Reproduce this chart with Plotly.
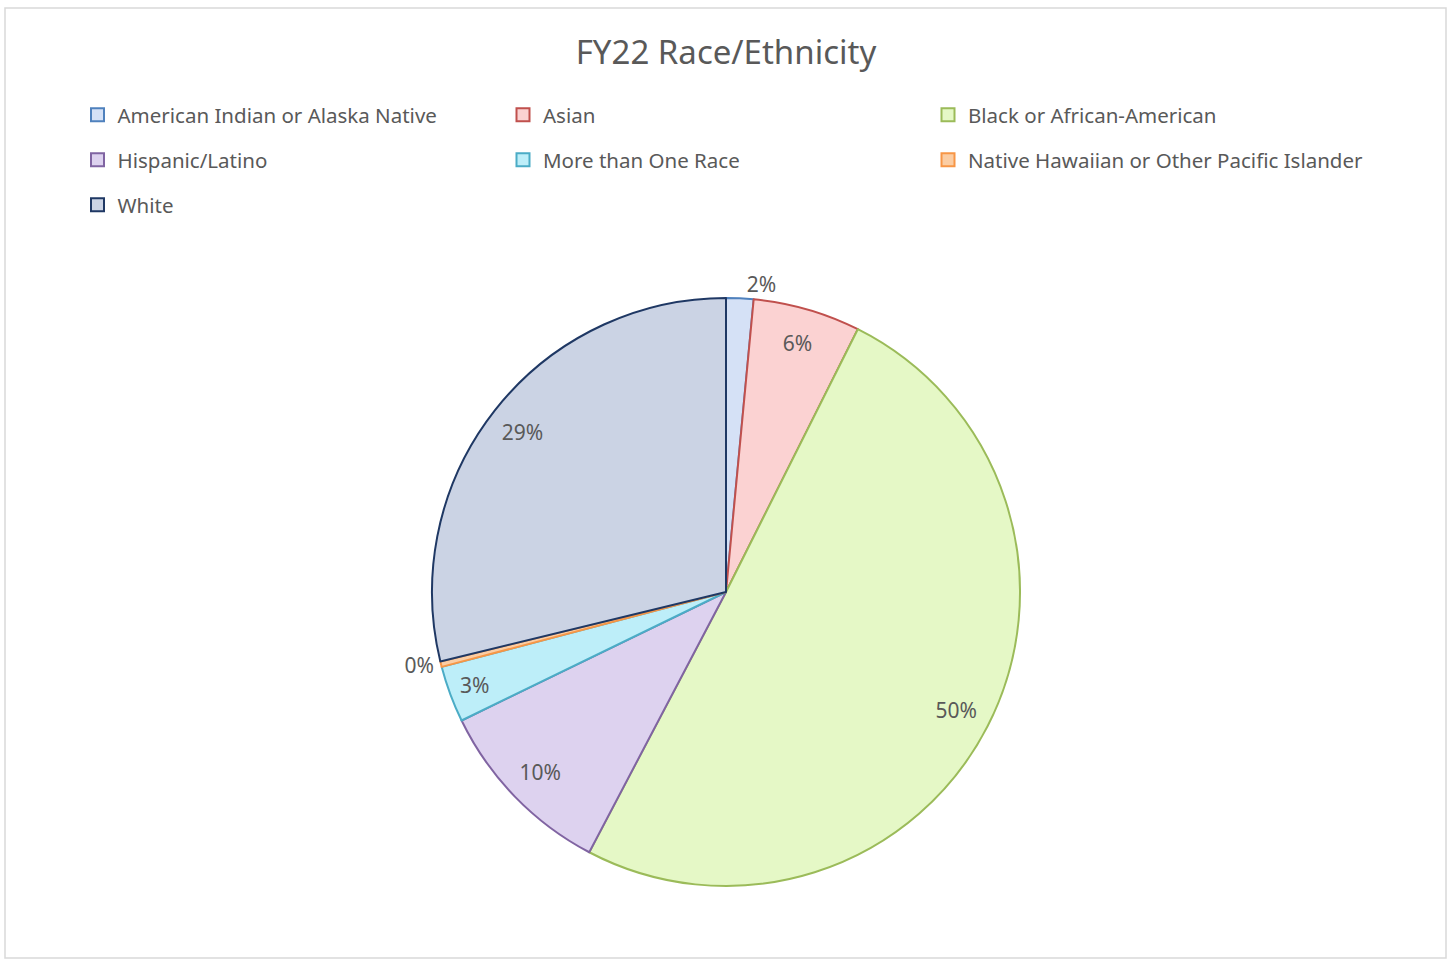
import plotly.graph_objects as go

labels = [
    "American Indian or Alaska Native",
    "Asian",
    "Black or African-American",
    "Hispanic/Latino",
    "More than One Race",
    "Native Hawaiian or Other Pacific Islander",
    "White",
]
shares = [1.5, 5.9, 50.3, 10.1, 3.1, 0.3, 28.8]
label_pos = ["outside", "inside", "inside", "inside", "inside", "outside", "inside"]

fill_colors = ["#d5e1f6", "#fbd2d2", "#e5f8c6", "#ddd2ef", "#bdeef9", "#fbcda3", "#cbd3e4"]
edge_colors = ["#4f81bd", "#c0504d", "#9bbb59", "#8064a2", "#4bacc6", "#f79646", "#1f3864"]

W, H = 1452, 960
pie_domain = dict(x=[0, 1], y=[0.0771, 0.6896])
txt_font = dict(family="Noto Sans", size=21, color="#595959")

# Excel-like legend grid: 3 columns, rows 45px apart
col_x = [77.5, 503, 928]
row_y = [115, 160, 205]

fig = go.Figure()

# the slices
fig.add_trace(go.Pie(
    labels=labels,
    values=shares,
    sort=False,
    direction="clockwise",
    rotation=0,
    textinfo="none",
    marker=dict(colors=fill_colors, line=dict(color=edge_colors, width=2)),
    domain=pie_domain,
    showlegend=False,
    hoverinfo="label+percent",
))

# transparent ring on top, only for the percent labels (puts them near the rim like Excel)
fig.add_trace(go.Pie(
    labels=labels,
    values=shares,
    sort=False,
    direction="clockwise",
    rotation=0,
    hole=0.76,
    texttemplate="%{percent:.0%}",
    textposition=label_pos,
    insidetextorientation="horizontal",
    textfont=txt_font,
    outsidetextfont=txt_font,
    marker=dict(colors=["rgba(0,0,0,0)"] * len(labels), line=dict(width=0)),
    domain=pie_domain,
    showlegend=False,
    hoverinfo="skip",
))

legends = {}
for i, (name, fc, ec) in enumerate(zip(labels, fill_colors, edge_colors)):
    lg = "legend" if i == 0 else "legend%d" % (i + 1)
    fig.add_trace(go.Scatter(
        x=[None], y=[None],
        mode="markers",
        name=name,
        legend=lg,
        marker=dict(symbol="square", size=13, color=fc, line=dict(color=ec, width=2)),
    ))
    legends[lg] = dict(
        x=col_x[i % 3] / W,
        y=1 - row_y[i // 3] / H,
        xanchor="left",
        yanchor="middle",
        font=dict(family="Noto Sans", size=20.5, color="#595959"),
        itemwidth=30,
        bgcolor="rgba(0,0,0,0)",
    )

fig.update_layout(
    width=W,
    height=H,
    margin=dict(l=0, r=0, t=0, b=0, autoexpand=False),
    paper_bgcolor="white",
    plot_bgcolor="white",
    xaxis=dict(visible=False),
    yaxis=dict(visible=False),
    title=dict(
        text="FY22 Race/Ethnicity",
        x=0.5,
        xanchor="center",
        y=1 - 52 / H,
        yanchor="middle",
        font=dict(family="Noto Sans", size=33, color="#595959"),
    ),
    shapes=[dict(
        type="rect", xref="paper", yref="paper",
        x0=5 / W, x1=1446 / W, y0=2 / H, y1=1 - 8 / H,
        line=dict(color="#d9d9d9", width=1.5),
        fillcolor="rgba(0,0,0,0)",
        layer="below",
    )],
    **legends,
)

# drop the browser's default 8px body margin so the figure sits at the page corner
fig.write_html(
    "out.html",
    config={"displayModeBar": False},
    post_script="document.body.style.margin='0px';",
)
